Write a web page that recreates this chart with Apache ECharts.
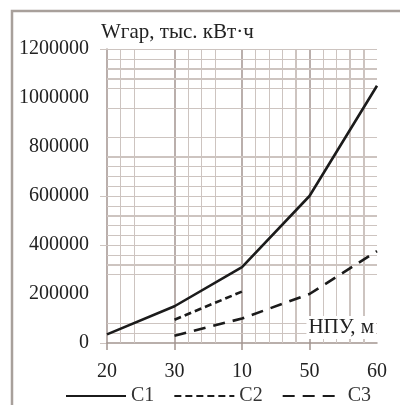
<!DOCTYPE html>
<html>
<head>
<meta charset="utf-8">
<script src="https://cdn.jsdelivr.net/npm/echarts@6/dist/echarts.min.js"></script>
<style>
  html, body { margin: 0; padding: 0; background: #fff; }
  #chart { width: 400px; height: 405px; }
</style>
</head>
<body>
<div id="chart"></div>
<script>
// НПУ, м
const xValues = [20, 30, 40, 50, 60]
const xTickLabels = ['20', '30', '10', '50', '60']
// Wгар, тыс. кВт·ч
const c1 = [35000, 150000, 310000, 600000, 1050000]
const c2 = [null, 95000, 210000, null, null]
const c3 = [null, 30000, 100000, 200000, 375000]
const seriesNames = ['С1', 'С2', 'С3']

// сетка как на скане
const gridX = [22, 24, 32, 34, 36, 42, 44, 46, 52, 54]
const gridXThick = [48, 56, 58]
const gridXMajor = [30, 40, 50]
const gridY = [40000, 80000, 280000, 360000, 400000, 440000, 480000, 560000, 600000,
  640000, 680000, 720000, 840000, 960000, 1040000, 1160000, 1200000]
const gridYThick = [320000, 520000, 760000, 1080000, 1120000]

const font = 'Liberation Serif'
const light = '#cdc4c0'
const dark = '#a39590'

const toPairs = vals => xValues.map((x, i) => [x, vals[i]])

const gl = (color, width) => ({ color: color, width: width, type: 'solid' })
const gridLines = [
  ...gridX.map(v => ({ xAxis: v, lineStyle: gl(light, 1) })),
  ...gridXThick.map(v => ({ xAxis: v, lineStyle: gl(light, 2) })),
  ...gridXMajor.map(v => ({ xAxis: v, lineStyle: gl(dark, 1.5) })),
  ...gridY.map(v => ({ yAxis: v, lineStyle: gl(light, 1) })),
  ...gridYThick.map(v => ({ yAxis: v, lineStyle: gl(light, 2) }))
]

const lineSeries = (name, vals, dash) => ({
  name: name,
  type: 'line',
  data: toPairs(vals),
  symbol: 'none',
  showSymbol: false,
  z: 5,
  connectNulls: false,
  lineStyle: { color: '#1b1b1b', width: 2.6, type: dash },
  itemStyle: { color: '#1b1b1b' }
})

const chart = echarts.init(document.getElementById('chart'), null, { renderer: 'canvas' })
chart.setOption({
  animation: false,
  backgroundColor: '#fff',
  title: [
    {
      text: 'Wгар, тыс. кВт·ч',
      left: 101,
      top: 22,
      padding: 0,
      textStyle: { fontFamily: font, fontSize: 21, fontWeight: 'normal', color: '#222' }
    },
    {
      text: 'НПУ, м',
      right: 24,
      top: 316,
      padding: [1, 2, 1, 2],
      backgroundColor: '#fff',
      textStyle: { fontFamily: font, fontSize: 21, fontWeight: 'normal', color: '#222' }
    }
  ],
  graphic: [{
    type: 'rect',
    shape: { x: 12, y: 11, width: 400, height: 410 },
    style: { fill: 'none', stroke: '#a8a09b', lineWidth: 2.5 },
    silent: true
  }],
  legend: {
    data: seriesNames,
    left: 60,
    top: 381,
    itemWidth: 60,
    itemHeight: 16,
    itemGap: 19,
    itemStyle: { opacity: 0 },
    textStyle: { fontFamily: font, fontSize: 20, color: '#333' }
  },
  grid: { left: 107, right: 23, top: 49, bottom: 62 },
  xAxis: {
    type: 'value',
    min: 20,
    max: 60,
    interval: 10,
    splitLine: { show: false },
    axisLine: { lineStyle: { color: dark, width: 1.5 } },
    axisTick: { show: true, customValues: [20, 30, 40, 50], length: 7, lineStyle: { color: dark, width: 1.5 } },
    axisLabel: {
      margin: 19,
      fontFamily: font,
      fontSize: 20,
      color: '#222',
      formatter: v => xTickLabels[xValues.indexOf(v)]
    }
  },
  yAxis: {
    type: 'value',
    min: 0,
    max: 1200000,
    interval: 200000,
    splitLine: { show: false },
    axisLine: { show: true, lineStyle: { color: dark, width: 1.5 } },
    axisTick: { show: true, customValues: [0, 400000, 600000, 1200000], length: 7, lineStyle: { color: light, width: 1 } },
    axisLabel: { margin: 18, fontFamily: font, fontSize: 20, color: '#222', formatter: v => String(v) }
  },
  series: [
    {
      name: 'grid',
      type: 'line',
      data: [],
      z: 1,
      silent: true,
      markLine: {
        silent: true,
        symbol: ['none', 'none'],
        label: { show: false },
        emphasis: { disabled: true },
        animation: false,
        data: gridLines
      }
    },
    lineSeries(seriesNames[0], c1, 'solid'),
    lineSeries(seriesNames[1], c2, [7, 4]),
    lineSeries(seriesNames[2], c3, [12, 8])
  ]
})
</script>
</body>
</html>
